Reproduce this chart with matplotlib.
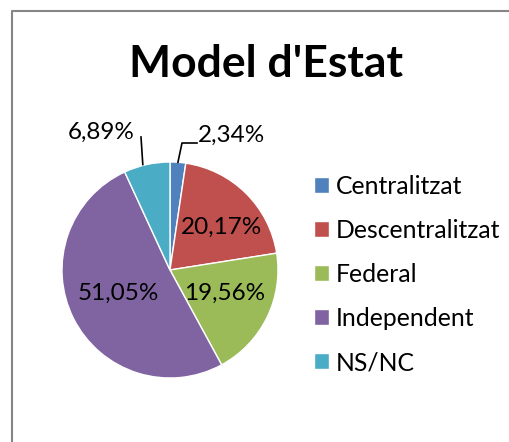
import matplotlib.pyplot as plt
from matplotlib.lines import Line2D
import numpy as np

# data
categories = ["Centralitzat", "Descentralitzat", "Federal", "Independent", "NS/NC"]
values = [2.34, 20.17, 19.56, 51.05, 6.89]
colors = ["#4F81BD", "#C0504D", "#9BBB59", "#8064A2", "#4BACC6"]
labels = [f"{v:.2f}".replace(".", ",") + "%" for v in values]

plt.rcParams["font.family"] = ["Lato", "DejaVu Sans"]

W, H = 510, 442
fig = plt.figure(figsize=(W / 100, H / 100), dpi=100)
# axes in pixel units (y up)
ax = fig.add_axes([0, 0, 1, 1])

center = (170, H - 270)
radius = 108
wedges, _ = ax.pie(values, colors=colors, startangle=90, counterclock=False,
                   center=center, radius=radius, frame=True,
                   wedgeprops=dict(edgecolor="white", linewidth=1))
ax.set_xlim(0, W)
ax.set_ylim(0, H)
ax.axis("off")

lab_fs = 17.5

# inside labels (Excel "best fit" placement)
inside = {1: (222, H - 227), 2: (225, H - 293), 3: (118, H - 293)}
for i, pos in inside.items():
    ax.text(pos[0], pos[1], labels[i], ha="center", va="center", fontsize=lab_fs)

# outside labels with leader lines
def edge_point(w):
    ang = np.deg2rad((w.theta1 + w.theta2) / 2)
    return (center[0] + radius * np.cos(ang), center[1] + radius * np.sin(ang))

x0, y0 = edge_point(wedges[0])
ax.plot([x0, 182, 197], [y0, H - 143, H - 143], color="black", lw=1.2)
ax.text(232, H - 135, labels[0], ha="center", va="center", fontsize=lab_fs)

x4, y4 = edge_point(wedges[4])
ax.plot([x4 - 4, 141], [y4, H - 137], color="black", lw=1.2)
ax.text(101, H - 132, labels[4], ha="center", va="center", fontsize=lab_fs)

# title
fig.text(266 / W, (H - 77) / H, "Model d'Estat", ha="center", va="baseline",
         fontsize=32, fontweight="bold")

# legend
fig.legend(wedges, categories, loc="upper left",
           bbox_to_anchor=(314 / W, (H - 175) / H), frameon=False,
           fontsize=17.8, handlelength=0.61, handleheight=0.61,
           handletextpad=0.28, labelspacing=0.85, borderpad=0, borderaxespad=0)

# chart area border (cropped on the right and bottom)
fig.add_artist(Line2D([12.5 / W, 12.5 / W, 1], [0, (H - 10.5) / H, (H - 10.5) / H],
                      transform=fig.transFigure, color="#868686", lw=1.5))

fig.savefig("out.png", dpi=100)
